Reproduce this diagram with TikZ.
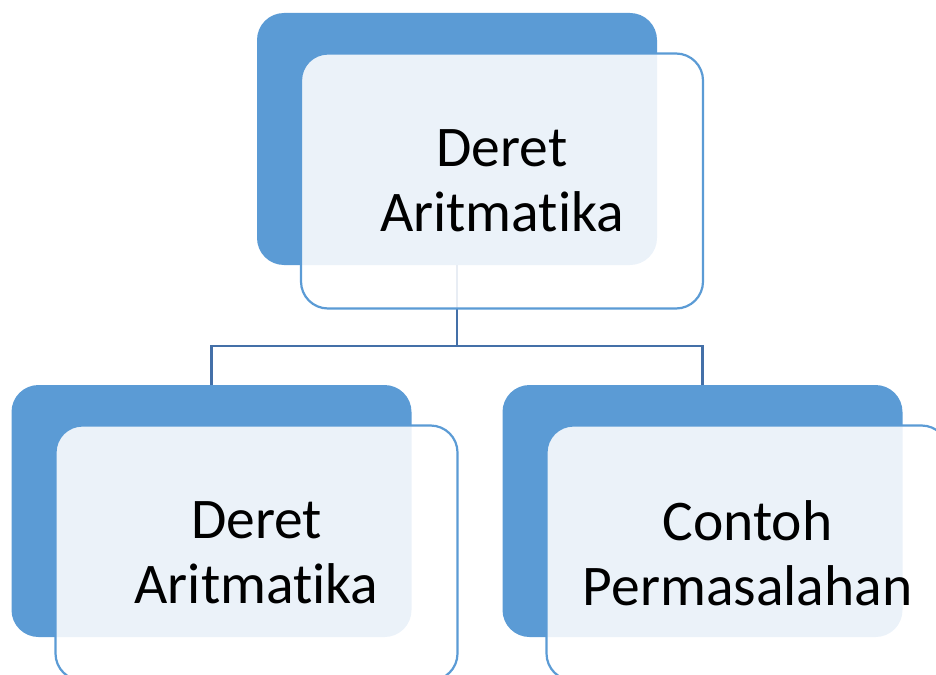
\documentclass[tikz,border=0pt]{standalone}
\usepackage{fontspec}
\setmainfont{Carlito}[RawFeature={-liga}]
\usepackage{xcolor}
\usepackage{tikz}
\usetikzlibrary{positioning}

\definecolor{biru}{HTML}{5B9BD5}
\definecolor{biruTepi}{HTML}{5B9BD5}
\definecolor{biruGaris}{HTML}{4470A8}

\begin{document}
\begin{tikzpicture}[x=1pt, y=-1pt,
    belakang/.style={fill=biru, rounded corners=27pt, minimum width=400pt,
        minimum height=252pt, inner sep=0pt},
    depan/.style={draw=biruTepi, line width=2.2pt, fill=white, fill opacity=0.88,
        text opacity=1, rounded corners=27pt, minimum width=402pt,
        minimum height=255pt, inner sep=0pt, align=center,
        font=\fontsize{57.5}{65}\selectfont},
    konektor/.style={draw=biruGaris, line width=2.2pt}]

    % 0. Batas gambar
    \clip (0,0) rectangle (936,674);

    % 1. Kotak biru di belakang
    \node[belakang] (atas-b)  at (457,139) {};
    \node[belakang] (kiri-b)  at (211.5,511) {};
    \node[belakang] (kanan-b) at (702.5,511) {};

    % 2. Garis penghubung
    \coordinate (cabang) at (457,346);
    \draw[konektor] (atas-b.south) -- (cabang) -| (kiri-b.north);
    \draw[konektor] (cabang) -| (kanan-b.north);

    % 3. Kotak depan dengan teks
    \node[depan] (atas)  at ([shift={(45,42)}]atas-b)  {Deret\\Aritmatika};
    \node[depan] (kiri)  at ([shift={(45,42)}]kiri-b)  {Deret\\Aritmatika};
    \node[depan] (kanan) at ([shift={(45,42)}]kanan-b) {Contoh\\Permasalahan};
\end{tikzpicture}
\end{document}
